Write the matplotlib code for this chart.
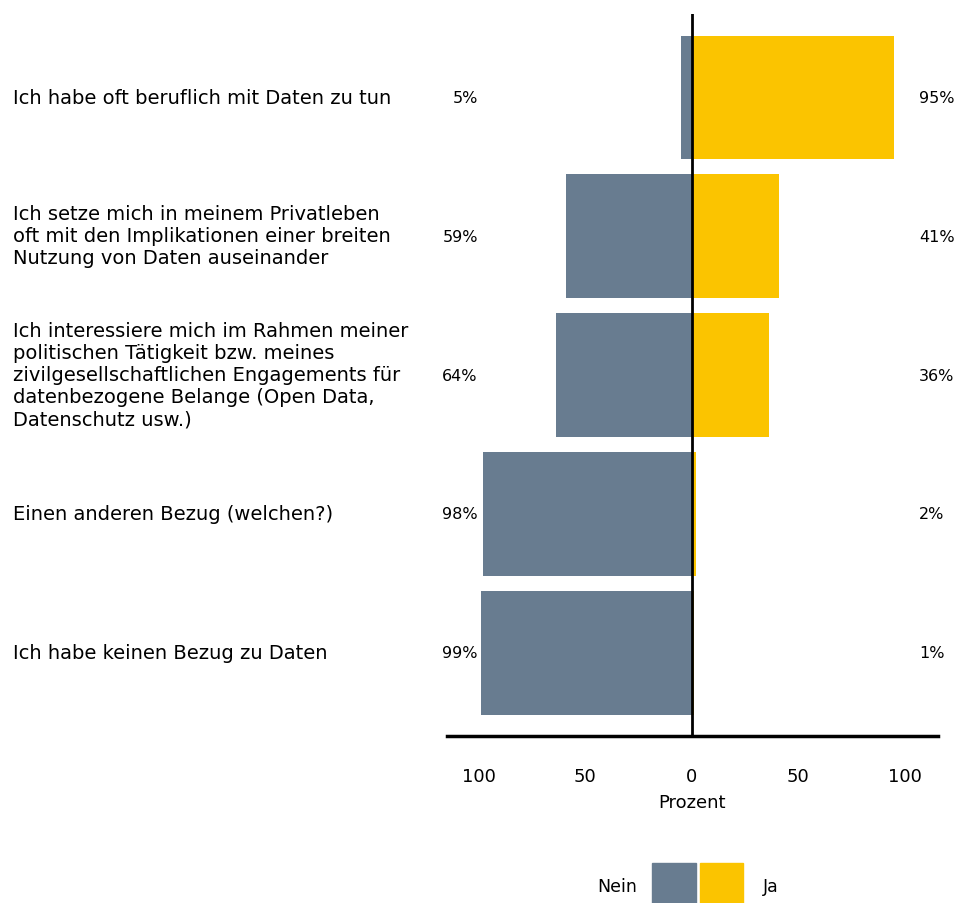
import matplotlib.pyplot as plt
from matplotlib.patches import Rectangle

# Daten
fragen = [
    "Ich habe oft beruflich mit Daten zu tun",
    "Ich setze mich in meinem Privatleben\noft mit den Implikationen einer breiten\nNutzung von Daten auseinander",
    "Ich interessiere mich im Rahmen meiner\npolitischen Tätigkeit bzw. meines\nzivilgesellschaftlichen Engagements für\ndatenbezogene Belange (Open Data,\nDatenschutz usw.)",
    "Einen anderen Bezug (welchen?)",
    "Ich habe keinen Bezug zu Daten",
]
nein = [5, 59, 64, 98, 99]
ja = [95, 41, 36, 2, 1]
ticks = [-100, -50, 0, 50, 100]
tick_labels = ["100", "50", "0", "50", "100"]

grau = "#687c90"
gelb = "#fbc400"

fig = plt.figure(figsize=(9.6, 9.04), dpi=100)
ax = fig.add_axes([0.4656, 0.1847, 0.5114, 0.7987])

pos = list(range(len(fragen)))
ax.barh(pos, [-v for v in nein], height=0.89, color=grau, zorder=2)
ax.barh(pos, ja, height=0.89, color=gelb, zorder=2)
ax.axvline(0, color="black", lw=2, zorder=3)

ax.set_xlim(-115, 115.5)
ax.set_ylim(len(fragen) - 0.4, -0.6)

for s in ["top", "left", "right"]:
    ax.spines[s].set_visible(False)
ax.spines["bottom"].set_linewidth(2.5)
ax.set_yticks([])
ax.set_xticks(ticks)
ax.set_xticklabels(tick_labels, fontsize=13)
ax.tick_params(axis="x", length=0, pad=22)
ax.set_xlabel("Prozent", fontsize=13, labelpad=6)

for i in pos:
    ax.text(-100.5, i, f"{nein[i]}%", ha="right", va="center", fontsize=11.5)
    ax.text(106.5, i, f"{ja[i]}%", ha="left", va="center", fontsize=11.5)
    ax.text(13 / 960, 1 - (98 + i * 138.8) / 904, fragen[i], transform=fig.transFigure,
            ha="left", va="center", fontsize=14, linespacing=1.2)

# Legende
fig.text(637 / 960, 1 - 887 / 904, "Nein", ha="right", va="center", fontsize=12.5)
fig.patches.append(Rectangle((652 / 960, 0), 44 / 960, 40 / 904, transform=fig.transFigure,
                             color=grau, figure=fig))
fig.patches.append(Rectangle((700 / 960, 0), 43 / 960, 40 / 904, transform=fig.transFigure,
                             color=gelb, figure=fig))
fig.text(763 / 960, 1 - 887 / 904, "Ja", ha="left", va="center", fontsize=12.5)

fig.savefig("out.png", dpi=100)
